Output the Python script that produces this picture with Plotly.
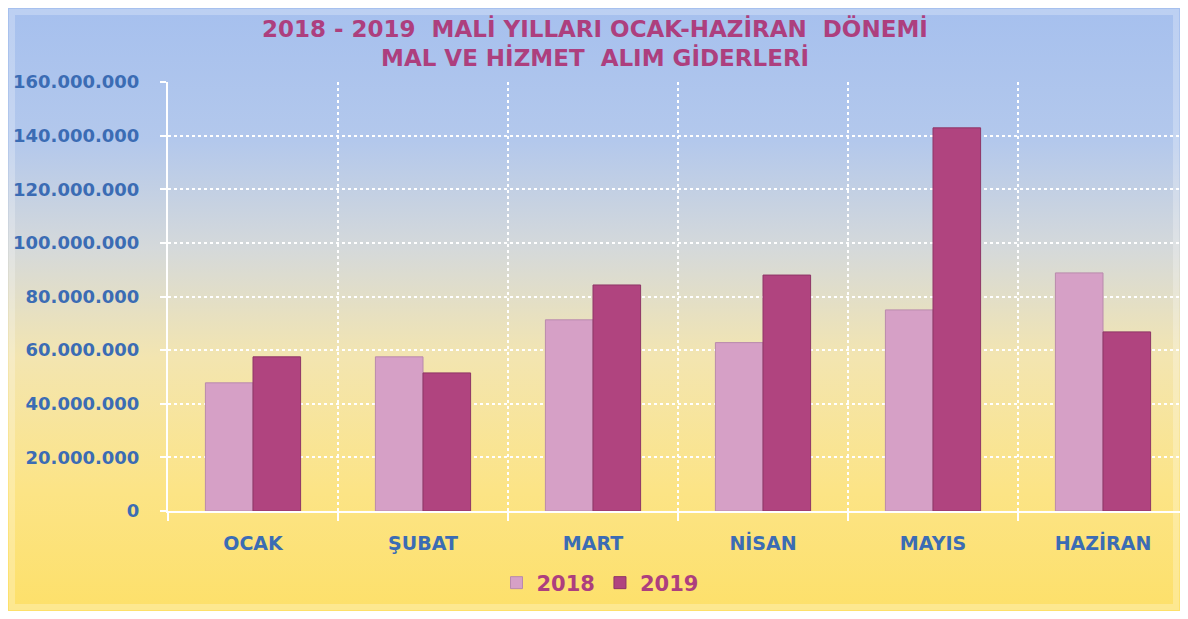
import plotly.graph_objects as go
import urllib.parse

months = ["OCAK", "ŞUBAT", "MART", "NİSAN", "MAYIS", "HAZİRAN"]
values_2018 = [47_800_000, 57_500_000, 71_300_000, 62_800_000, 75_000_000, 88_800_000]
values_2019 = [57_500_000, 51_500_000, 84_300_000, 88_000_000, 142_900_000, 66_800_000]
series_names = ["2018", "2019"]
y_ticks = [0, 20_000_000, 40_000_000, 60_000_000, 80_000_000, 100_000_000,
           120_000_000, 140_000_000, 160_000_000]
title_lines = ["2018 - 2019  MALİ YILLARI OCAK-HAZİRAN  DÖNEMİ",
               "MAL VE HİZMET  ALIM GİDERLERİ"]

# page is rendered with an 8px body margin -> work in page pixels and shift
O = 8
W, H = 1188 - 2 * O, 619 - 2 * O
L = 168 - O
T = 82 - O
B = H - (511 - O)
R = 0
PW, PH = W - L - R, H - T - B

def px_to_paper_x(px_page):
    return (px_page - O - L) / PW

def py_to_paper_y(py_page):
    return (H - B - (py_page - O)) / PH

svg = (
    '<svg xmlns="http://www.w3.org/2000/svg" width="100" height="100" preserveAspectRatio="none">'
    '<defs><linearGradient id="g" x1="0" y1="0" x2="0" y2="1">'
    '<stop offset="0" stop-color="#a6c0ee"/>'
    '<stop offset="0.22" stop-color="#b3c8ec"/>'
    '<stop offset="0.40" stop-color="#d5d9da"/>'
    '<stop offset="0.58" stop-color="#f3e5b0"/>'
    '<stop offset="0.80" stop-color="#fce486"/>'
    '<stop offset="1" stop-color="#fde06a"/>'
    '</linearGradient></defs>'
    '<rect width="100" height="100" fill="url(#g)"/></svg>'
)
bg_src = "data:image/svg+xml;charset=utf-8," + urllib.parse.quote(svg)

FONT = "'DejaVu Sans', Verdana, sans-serif"
BLUE = "#3b6cb4"
MAGENTA = "#ad3f7e"

fig = go.Figure()
fig.add_trace(go.Bar(
    x=months, y=values_2018, name=series_names[0],
    marker=dict(color="#d6a0c6", line=dict(color="#b98aac", width=1)),
))
fig.add_trace(go.Bar(
    x=months, y=values_2019, name=series_names[1],
    marker=dict(color="#b0447f", line=dict(color="#8e3566", width=1)),
))

annotations = []
for i, (line, py) in enumerate(zip(title_lines, [28, 58])):
    annotations.append(dict(
        text=line, showarrow=False,
        xref="paper", yref="paper",
        x=px_to_paper_x(595), y=py_to_paper_y(py),
        xanchor="center", yanchor="middle",
        font=dict(size=23, color=MAGENTA, family=FONT, weight="bold"),
    ))

fig.update_layout(
    width=W, height=H,
    margin=dict(l=L, r=R, t=T, b=B, autoexpand=False),
    paper_bgcolor="white",
    plot_bgcolor="rgba(0,0,0,0)",
    separators=",.",
    barmode="group",
    bargap=0.44,
    bargroupgap=0,
    font=dict(family=FONT),
    annotations=annotations,
    xaxis=dict(
        type="category",
        range=[-0.5, (1180 - 168) / 170 - 0.5],
        tickson="boundaries",
        ticks="outside", ticklen=8, tickcolor="white", tickwidth=1.5,
        showgrid=True, gridcolor="white", griddash="dot", gridwidth=1.5,
        showline=True, linecolor="white", linewidth=2,
        tickfont=dict(size=19, color=BLUE, family=FONT, weight="bold"),
        ticklabelstandoff=14,
    ),
    yaxis=dict(
        range=[0, 160_000_000],
        tickvals=y_ticks,
        tickformat=",d",
        ticks="outside", ticklen=6, tickcolor="white", tickwidth=1.5,
        showgrid=True, gridcolor="white", griddash="dot", gridwidth=1.5,
        showline=True, linecolor="white", linewidth=2,
        zeroline=False,
        tickfont=dict(size=18, color=BLUE, family=FONT, weight="bold"),
        ticklabelstandoff=17,
    ),
    legend=dict(
        orientation="h",
        x=px_to_paper_x(600), xanchor="center",
        y=py_to_paper_y(583), yanchor="middle",
        font=dict(size=21, color=MAGENTA, family=FONT, weight="bold"),
        bgcolor="rgba(0,0,0,0)",
        itemwidth=30,
    ),
    images=[dict(
        source=bg_src, xref="paper", yref="paper",
        x=px_to_paper_x(O), y=py_to_paper_y(O),
        sizex=W / PW, sizey=H / PH,
        xanchor="left", yanchor="top", sizing="stretch", layer="below",
    )],
    shapes=[dict(
        type="rect", xref="paper", yref="paper",
        x0=px_to_paper_x(O + 4), x1=px_to_paper_x(O + W - 4),
        y0=py_to_paper_y(O + 4), y1=py_to_paper_y(O + H - 4),
        line=dict(color="rgba(255,255,255,0.25)", width=6),
        layer="below",
    )],
)

fig.write_html("out.html")
